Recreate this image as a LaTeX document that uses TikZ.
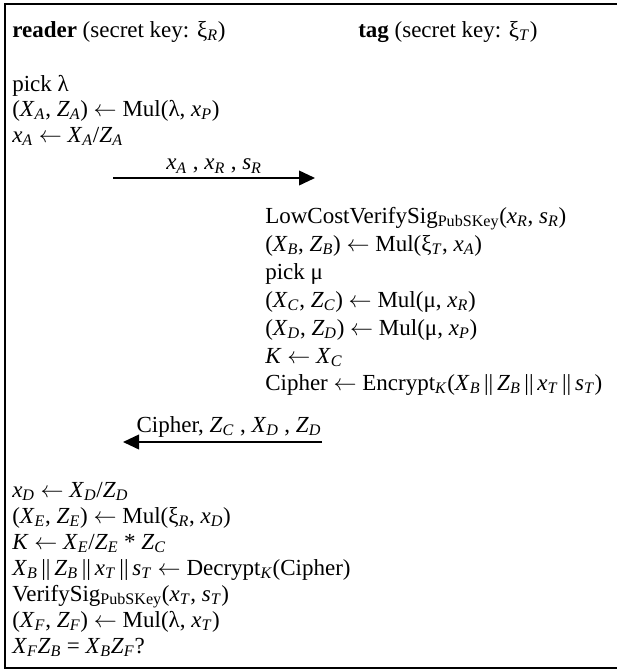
\documentclass[tikz,border=0pt]{standalone}
\usepackage{fontspec}
\setmainfont{Liberation Serif}
\usetikzlibrary{arrows.meta}

\newcommand{\iv}[2]{\textit{#1}\textsubscript{\textit{#2}}}
\newcommand{\cc}{\,||\,}
\newcommand{\larr}{$\leftarrow$}

\tikzset{
  step line/.style={anchor=base west, inner sep=0pt, font=\fontsize{17.25}{20}\selectfont},
  msg/.style={line width=1.3pt, -{Triangle[length=12pt,width=11pt]}},
  msg label/.style={inner sep=0pt, font=\fontsize{17.25}{20}\selectfont}
}

\begin{document}
\begin{tikzpicture}[x=0.75pt,y=-0.75pt]
  \useasboundingbox (0,0) rectangle (617,671);
  \draw[line width=1.5pt] (617,4) -- (5,4) -- (5,668) -- (617,668);

  % who is who
  \node[step line] (hr) at (12,37) {\textbf{reader} (secret key: ξ\textsubscript{\textit{R}})};
  \node[step line] (ht) at (358,37) {\textbf{tag} (secret key: ξ\textsubscript{\textit{T}})};

  % reader, first part
  \node[step line] (r1) at (12,91) {pick λ};
  \node[step line] (r2) at (12,116.5) {(\iv{X}{A}, \iv{Z}{A}) \larr{} Mul(λ, \iv{x}{P})};
  \node[step line] (r3) at (12,142) {\iv{x}{A} \larr{} \iv{X}{A}/\iv{Z}{A}};

  \coordinate (m1s) at (113,178);
  \coordinate (m1e) at (315,178);
  \draw[msg] (m1s) -- (m1e) node[msg label, midway, above=3pt] (m1) {\iv{x}{A} , \iv{x}{R} , \iv{s}{R}};

  % tag
  \node[step line] (t1) at (265,223) {LowCostVerifySig\textsubscript{PubSKey}(\iv{x}{R}, \iv{s}{R})};
  \node[step line] (t2) at (265,251) {(\iv{X}{B}, \iv{Z}{B}) \larr{} Mul(ξ\textsubscript{\textit{T}}, \iv{x}{A})};
  \node[step line] (t3) at (265,279) {pick μ};
  \node[step line] (t4) at (265,307) {(\iv{X}{C}, \iv{Z}{C}) \larr{} Mul(μ, \iv{x}{R})};
  \node[step line] (t5) at (265,335) {(\iv{X}{D}, \iv{Z}{D}) \larr{} Mul(μ, \iv{x}{P})};
  \node[step line] (t6) at (265,363) {\textit{K} \larr{} \iv{X}{C}};
  \node[step line] (t7) at (265,390) {Cipher \larr{} Encrypt\textsubscript{\textit{K}}(\iv{X}{B}\cc\iv{Z}{B}\cc\iv{x}{T}\cc\iv{s}{T})};

  \coordinate (m2s) at (322,442);
  \coordinate (m2e) at (123,442);
  \draw[msg] (m2s) -- (m2e) node[msg label, pos=0, anchor=south east, yshift=3pt] (m2) {Cipher, \iv{Z}{C} , \iv{X}{D} , \iv{Z}{D}};

  % reader, second part
  \node[step line] (f1) at (12,497) {\iv{x}{D} \larr{} \iv{X}{D}/\iv{Z}{D}};
  \node[step line] (f2) at (12,523) {(\iv{X}{E}, \iv{Z}{E}) \larr{} Mul(ξ\textsubscript{\textit{R}}, \iv{x}{D})};
  \node[step line] (f3) at (12,549) {\textit{K} \larr{} \iv{X}{E}/\iv{Z}{E} * \iv{Z}{C}};
  \node[step line] (f4) at (12,575) {\iv{X}{B}\cc\iv{Z}{B}\cc\iv{x}{T}\cc\iv{s}{T} \larr{} Decrypt\textsubscript{\textit{K}}(Cipher)};
  \node[step line] (f5) at (12,601) {VerifySig\textsubscript{PubSKey}(\iv{x}{T}, \iv{s}{T})};
  \node[step line] (f6) at (12,627) {(\iv{X}{F}, \iv{Z}{F}) \larr{} Mul(λ, \iv{x}{T})};
  \node[step line] (f7) at (12,653) {\iv{X}{F}\iv{Z}{B} = \iv{X}{B}\iv{Z}{F}?};
\end{tikzpicture}
\end{document}
